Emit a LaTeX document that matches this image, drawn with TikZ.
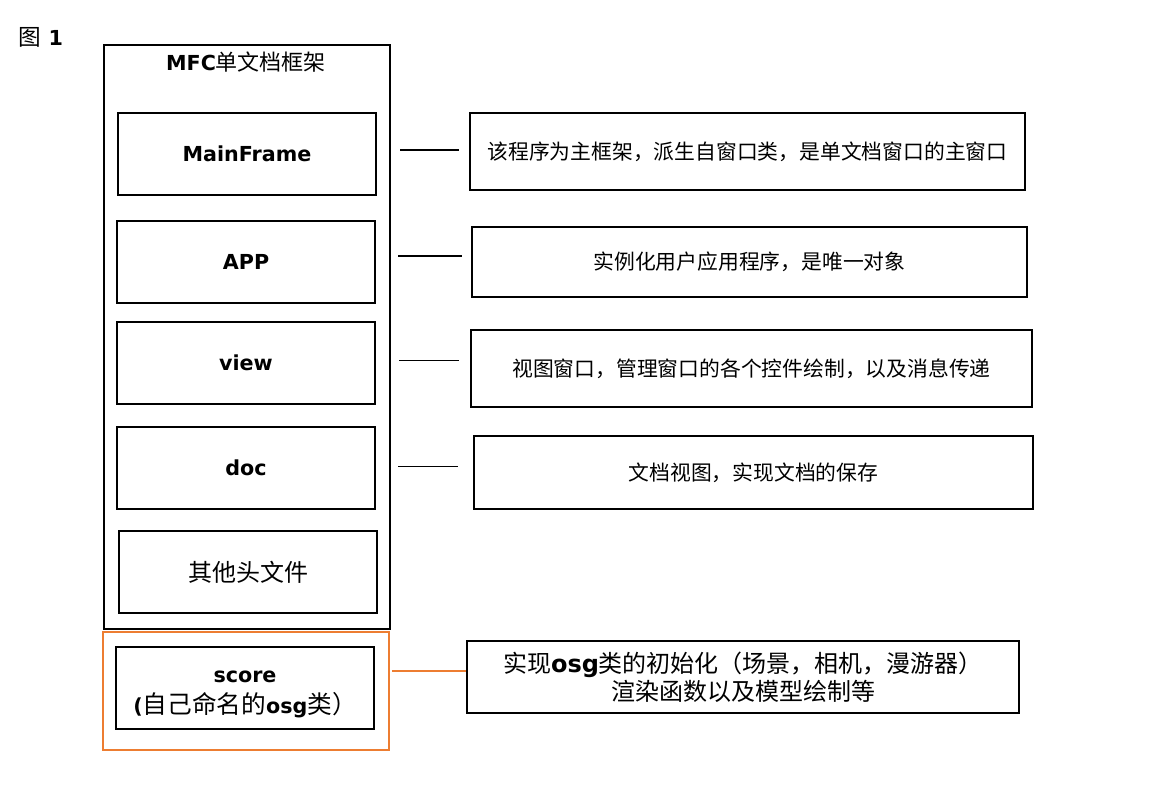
\documentclass[tikz,border=0pt]{standalone}
\usepackage{fontspec}
\setmainfont{DejaVu Sans}
\newfontfamily\cjk{Noto Sans CJK SC}
\usetikzlibrary{calc}

\definecolor{osgorange}{RGB}{237,125,49}
\newcommand\zh[1]{{\cjk\mdseries #1}}
\newcommand\lat[1]{{\normalfont\bfseries #1}}

\tikzset{
	frame/.style={draw, line width=1.5pt, inner sep=0pt},
	classbox/.style={draw, line width=1.5pt, minimum width=193.5pt, minimum height=61.5pt, inner sep=0pt, font=\bfseries\fontsize{15.5}{21}\selectfont},
	notebox/.style={draw, line width=1.5pt, inner sep=0pt, align=center, font=\cjk\fontsize{15.6}{21}\selectfont},
	link/.style={line width=1.4pt},
}

\begin{document}
\begin{tikzpicture}[x=0.75pt, y=-0.75pt]
	\useasboundingbox (0,0) rectangle (1152,809);
	\node[font=\bfseries\fontsize{15.5}{18}\selectfont] (caption) at (41,37) {{\cjk\mdseries\fontsize{17}{18}\selectfont 图} 1};
	% MFC frame and its classes
	\node[frame, minimum width=214.5pt, minimum height=438pt] (mfc) at (247,337) {};
	\node[font=\bfseries\fontsize{15.5}{18}\selectfont] (mfctitle) at (246,62) {MFC{\cjk\mdseries\fontsize{16.5}{18}\selectfont 单文档框架}};
	\node[classbox] (mainframe) at (247,154) {MainFrame};
	\node[classbox] (app) at (246,262) {APP};
	\node[classbox] (view) at (246,363) {view};
	\node[classbox] (doc) at (246,468) {doc};
	\node[classbox, font=\cjk\fontsize{18}{21}\selectfont] (others) at (248,572) {其他头文件};
	% own osg class
	\node[frame, draw=osgorange, minimum width=214.5pt, minimum height=88.5pt] (osgframe) at (246,691) {};
	\node[classbox] (score) at (245,688) {};
	\node[align=center, font=\bfseries\fontsize{15.5}{21}\selectfont] (scorelabel) at (245,694) {score\\[2.25pt]({\cjk\mdseries\fontsize{18.5}{21}\selectfont 自己命名的}osg{\cjk\mdseries\fontsize{18.5}{21}\selectfont 类）}};
	% notes
	\node[notebox, minimum width=416.25pt, minimum height=57.75pt] (note1) at (747.5,151.5) {该程序为主框架，派生自窗口类，是单文档窗口的主窗口};
	\node[notebox, minimum width=416.25pt, minimum height=52.5pt] (note2) at (749.5,262) {实例化用户应用程序，是唯一对象};
	\node[notebox, minimum width=420.75pt, minimum height=57.75pt] (note3) at (751.5,368.5) {视图窗口，管理窗口的各个控件绘制，以及消息传递};
	\node[notebox, minimum width=419.25pt, minimum height=54.75pt] (note4) at (753.5,472.5) {文档视图，实现文档的保存};
	\node[notebox, minimum width=414pt, minimum height=54pt, font=\cjk\fontsize{18}{21}\selectfont] (note5) at (743,677) {实现\lat{osg}类的初始化（场景，相机，漫游器）\\渲染函数以及模型绘制等};
	% links
	\draw[link] ($(mfc.east |- note1.west)+(9,-1.5)$) -- ($(note1.west)+(-10,-1.5)$);
	\draw[link] ($(mfc.east |- note2.west)+(7,-6)$) -- ($(note2.west)+(-9,-6)$);
	\draw[link] ($(mfc.east |- note3.west)+(8,-8)$) -- ($(note3.west)+(-11,-8)$);
	\draw[link] ($(mfc.east |- note4.west)+(7,-6)$) -- ($(note4.west)+(-15,-6)$);
	\draw[link, osgorange] ($(osgframe.east |- note5.west)+(2,-6)$) -- ($(note5.west)+(0,-6)$);
\end{tikzpicture}
\end{document}
